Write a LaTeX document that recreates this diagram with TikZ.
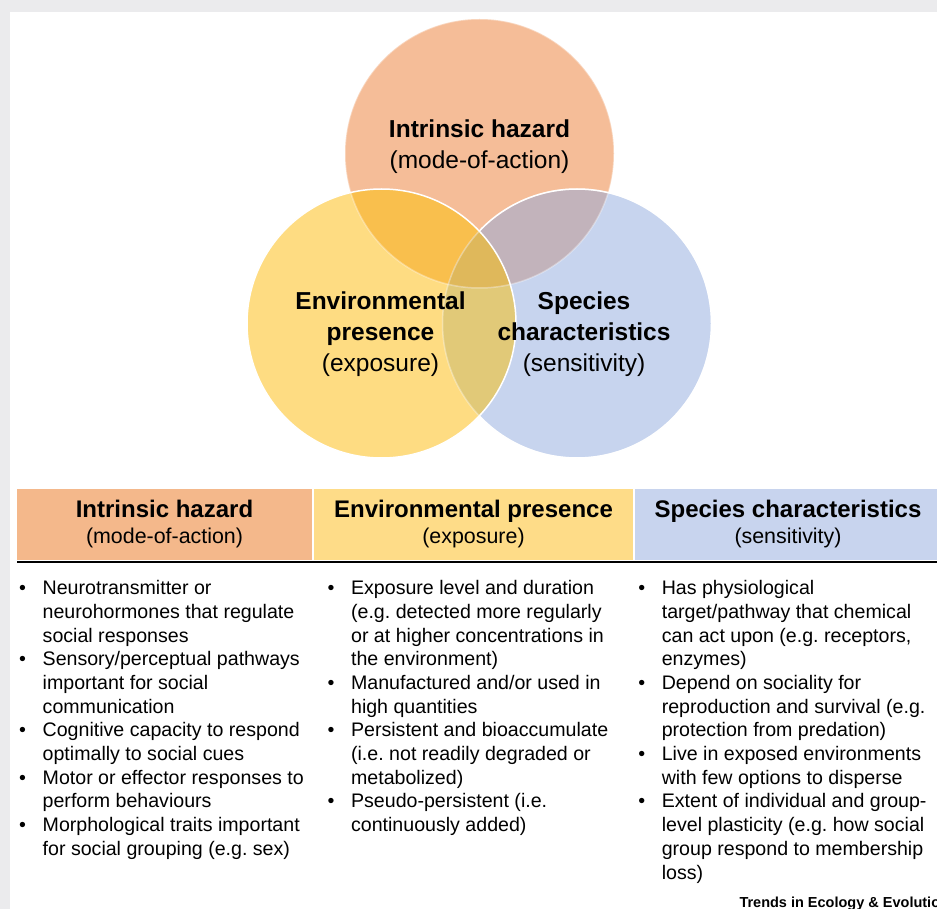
\documentclass[tikz,border=0pt]{standalone}
\usepackage{fontspec}
\setmainfont{Liberation Sans}

\definecolor{pagegray}{HTML}{EBEBED}
\definecolor{hzfill}{HTML}{F5BD98}
\definecolor{epfill}{HTML}{FEDC82}
\definecolor{scfill}{HTML}{C7D4EE}
\definecolor{hzep}{HTML}{F9BF4D}
\definecolor{hzsc}{HTML}{C2B3BB}
\definecolor{epsc}{HTML}{E1C978}
\definecolor{allthree}{HTML}{DFB85B}
\definecolor{hzhead}{HTML}{F4B88B}
\definecolor{ephead}{HTML}{FEDC88}
\definecolor{schead}{HTML}{C8D4EE}

\newcommand{\rad}{134.5}
\newcommand{\bulletcol}[1]{\begin{tabular}{@{}p{23.5pt}@{}l@{}}#1\end{tabular}}

\begin{document}
\begin{tikzpicture}[x=1pt,y=-1pt,
    venn/.style={circle,minimum size=269pt,inner sep=0pt},
    rim/.style={white,line width=1.5pt},
    cbold/.style={anchor=base,font=\fontsize{24.5}{29}\selectfont\bfseries},
    creg/.style={anchor=base,font=\fontsize{24.5}{29}\selectfont},
    headbox/.style={anchor=north west,inner sep=0pt,minimum height=71pt},
    htitle/.style={anchor=base,font=\fontsize{24}{28}\selectfont\bfseries},
    hsub/.style={anchor=base,font=\fontsize{21.4}{25}\selectfont},
    items/.style={anchor=north west,inner sep=0pt,font=\fontsize{19.6}{23.7}\selectfont\frenchspacing}]
    \useasboundingbox (0,0) rectangle (937,909);
    \fill[pagegray] (0,0) rectangle (937,909);
    \fill[white] (10,12) rectangle (937,909);

    % venn circles
    \node[venn,fill=hzfill] (hz) at (479.5,153.5) {};
    \node[venn,fill=scfill] (sc) at (577,323.5) {};
    \node[venn,fill=epfill] (ep) at (381.5,323.5) {};
    \begin{scope}
        \clip (ep.center) circle[radius=\rad];
        \fill[epsc] (sc.center) circle[radius=\rad];
    \end{scope}
    \begin{scope}
        \clip (hz.center) circle[radius=\rad];
        \fill[hzep] (ep.center) circle[radius=\rad];
        \fill[hzsc] (sc.center) circle[radius=\rad];
        \clip (ep.center) circle[radius=\rad];
        \fill[allthree] (sc.center) circle[radius=\rad];
    \end{scope}
    \draw[rim,opacity=.35] (hz.center) circle[radius=\rad];
    \draw[rim,opacity=.35] (sc.center) circle[radius=\rad];
    \begin{scope}[even odd rule]
        \clip (0,0) rectangle (937,909) (ep.center) circle[radius=\rad];
        \draw[rim] (sc.center) circle[radius=\rad];
    \end{scope}
    \draw[rim] (ep.center) circle[radius=\rad];

    \node[cbold] (hz1) at (479.5,137.7) {Intrinsic hazard};
    \node[creg] (hz2) at (479.5,168.3) {(mode-of-action)};
    \foreach \t/\y [count=\i] in {Environmental/310,presence/341}
        \node[cbold] (ep\i) at (380.5,\y) {\t};
    \node[creg] (ep3) at (380.5,371.5) {(exposure)};
    \foreach \t/\y [count=\i] in {Species/310,characteristics/341}
        \node[cbold] (sc\i) at (584,\y) {\t};
    \node[creg] (sc3) at (584,371.5) {(sensitivity)};

    % table header
    \node[headbox,fill=hzhead,minimum width=295pt] (h1) at (17,489) {};
    \node[headbox,fill=ephead,minimum width=319pt] (h2) at (314,489) {};
    \node[headbox,fill=schead,minimum width=305pt] (h3) at (635,489) {};
    \draw[line width=2pt] ([yshift=-1.8pt]h1.south west) -- ([yshift=-1.8pt]h3.south east);
    \node[htitle] (t1) at (164.5,517.5) {Intrinsic hazard};
    \node[hsub] (s1) at (164.5,543.5) {(mode-of-action)};
    \node[htitle] (t2) at (473.5,517.5) {Environmental presence};
    \node[hsub] (s2) at (473.5,543.5) {(exposure)};
    \node[htitle] (t3) at (788,517.5) {Species characteristics};
    \node[hsub] (s3) at (788,543.5) {(sensitivity)};

    % table body
    \node[items] (b1) at (19,577.9) {\bulletcol{
        \textbullet & Neurotransmitter or\\
        & neurohormones that regulate\\
        & social responses\\
        \textbullet & Sensory/perceptual pathways\\
        & important for social\\
        & communication\\
        \textbullet & Cognitive capacity to respond\\
        & optimally to social cues\\
        \textbullet & Motor or effector responses to\\
        & perform behaviours\\
        \textbullet & Morphological traits important\\
        & for social grouping (e.g. sex)}};
    \node[items] (b2) at (327.4,577.9) {\bulletcol{
        \textbullet & Exposure level and duration\\
        & (e.g. detected more regularly\\
        & or at higher concentrations in\\
        & the environment)\\
        \textbullet & Manufactured and/or used in\\
        & high quantities\\
        \textbullet & Persistent and bioaccumulate\\
        & (i.e. not readily degraded or\\
        & metabolized)\\
        \textbullet & Pseudo-persistent (i.e.\\
        & continuously added)}};
    \node[items] (b3) at (638.1,577.9) {\bulletcol{
        \textbullet & Has physiological\\
        & target/pathway that chemical\\
        & can act upon (e.g. receptors,\\
        & enzymes)\\
        \textbullet & Depend on sociality for\\
        & reproduction and survival (e.g.\\
        & protection from predation)\\
        \textbullet & Live in exposed environments\\
        & with few options to disperse\\
        \textbullet & Extent of individual and group-\\
        & level plasticity (e.g. how social\\
        & group respond to membership\\
        & loss)}};

    \node[anchor=base west,inner sep=0pt,font=\fontsize{14.5}{17}\selectfont\bfseries] (src) at (739.3,907.5) {Trends in Ecology \& Evolution};
\end{tikzpicture}
\end{document}
